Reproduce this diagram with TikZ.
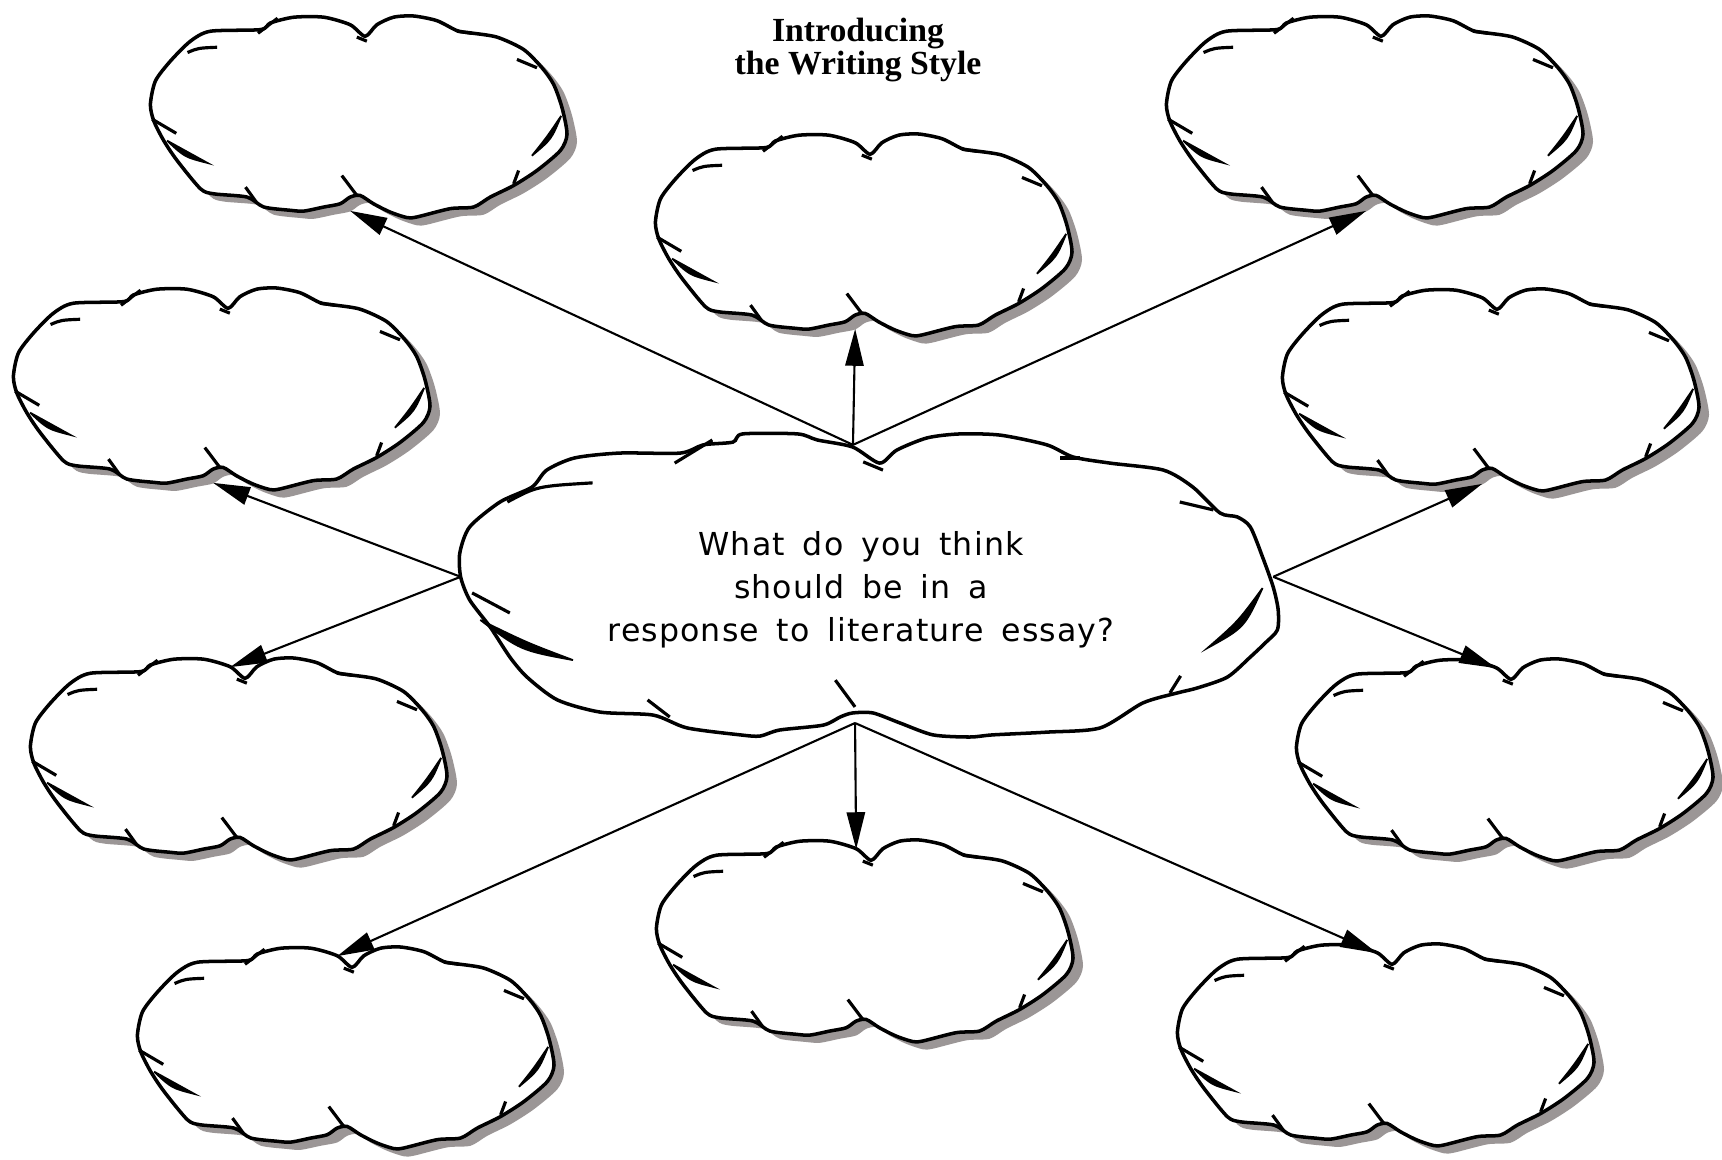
\documentclass[tikz,border=0pt]{standalone}
\usepackage{fontspec}
\usepackage{tikz}
\usetikzlibrary{arrows.meta}

\newfontfamily\titlefont{Liberation Serif}
\newfontfamily\bubblefont{DejaVu Sans}[LetterSpace=3.5,WordSpace=1.6]
\definecolor{shadowgray}{RGB}{155,150,150}

% outline of a small cloud, in units of its own box (x right, y down)
\newcommand\smallcloudedge{plot[smooth cycle,tension=0.45] coordinates {
  (0.516,0.100) (0.544,0.043) (0.584,0.006) (0.632,0.000) (0.688,0.023)
  (0.736,0.072) (0.768,0.083) (0.832,0.104) (0.896,0.165) (0.940,0.255)
  (0.968,0.337) (0.988,0.451) (1.000,0.582) (0.984,0.663) (0.928,0.761)
  (0.872,0.835) (0.816,0.892) (0.776,0.941) (0.720,0.949) (0.640,0.990)
  (0.616,0.993) (0.576,0.966) (0.536,0.925) (0.504,0.884) (0.480,0.892)
  (0.456,0.925) (0.417,0.941) (0.369,0.961) (0.336,0.957) (0.273,0.941)
  (0.233,0.892) (0.153,0.876) (0.121,0.851) (0.065,0.712) (0.033,0.614)
  (0.009,0.516) (0.001,0.435) (0.013,0.320) (0.049,0.222) (0.097,0.124)
  (0.145,0.075) (0.265,0.067) (0.289,0.034) (0.345,0.006) (0.417,0.006)
  (0.480,0.043)}}

% outline of the big middle cloud
\newcommand\bigcloudedge{plot[smooth cycle,tension=0.45] coordinates {
  (0.513,0.099) (0.534,0.056) (0.571,0.016) (0.611,0.003) (0.660,0.007)
  (0.717,0.039) (0.749,0.079) (0.794,0.099) (0.859,0.122) (0.895,0.178)
  (0.928,0.263) (0.949,0.276) (0.965,0.309) (0.980,0.408) (0.993,0.507)
  (0.999,0.582) (0.998,0.648) (0.983,0.691) (0.965,0.737) (0.937,0.803)
  (0.900,0.839) (0.876,0.855) (0.834,0.888) (0.782,0.970) (0.717,0.984)
  (0.651,0.993) (0.623,1.000) (0.578,0.993) (0.538,0.954) (0.505,0.921)
  (0.480,0.921) (0.465,0.934) (0.444,0.961) (0.391,0.977) (0.367,0.997)
  (0.343,0.993) (0.278,0.970) (0.237,0.928) (0.172,0.918) (0.120,0.878)
  (0.083,0.803) (0.062,0.737) (0.038,0.638) (0.013,0.549) (0.002,0.473)
  (0.001,0.395) (0.013,0.309) (0.050,0.227) (0.089,0.178) (0.107,0.122)
  (0.141,0.082) (0.196,0.066) (0.270,0.066) (0.298,0.039) (0.334,0.030)
  (0.346,0.003) (0.413,0.003) (0.437,0.023) (0.480,0.046)}}

\tikzset{
  pics/cloud/.style={code={
    % shadow, then the cloud itself
    \fill[shadowgray,shift={(0.024,0.038)}] \smallcloudedge;
    \filldraw[fill=white,line width=1pt] \smallcloudedge;
    % pen strokes
    \draw[line width=0.9pt] (0.161,0.154) .. controls (0.115,0.158) .. (0.090,0.180);
    \draw[line width=0.9pt] (0.259,0.085) -- (0.306,0.011);
    \draw[line width=0.9pt] (0.496,0.104) -- (0.520,0.124);
    \draw[line width=0.9pt] (0.736,0.075) -- (0.770,0.085);
    \draw[line width=0.9pt] (0.880,0.214) -- (0.928,0.255);
    \draw[line width=0.9pt] (0.005,0.508) -- (0.063,0.578);
    \draw[line width=0.9pt] (0.229,0.843) -- (0.255,0.917);
    \draw[line width=0.9pt] (0.460,0.786) -- (0.496,0.884);
    \draw[line width=0.9pt] (0.884,0.761) -- (0.872,0.827);
    \filldraw[line width=0.5pt] (0.041,0.614) .. controls (0.083,0.695) .. (0.138,0.724)
      .. controls (0.089,0.673) .. (0.041,0.614);
    \filldraw[line width=0.5pt] (0.986,0.492) .. controls (0.963,0.607) .. (0.916,0.688)
      .. controls (0.953,0.593) .. (0.986,0.492);
    \coordinate (-n) at (0.48,0.045);
    \coordinate (-s) at (0.48,0.960);
  }},
  pics/bigcloud/.style={code={
    \filldraw[fill=white,line width=1pt] \bigcloudedge;
    % pen strokes
    \draw[line width=0.9pt] (0.263,0.099) -- (0.309,0.023);
    \draw[line width=0.9pt] (0.163,0.164) .. controls (0.095,0.175) .. (0.059,0.227);
    \draw[line width=0.9pt] (0.493,0.095) -- (0.517,0.122);
    \draw[line width=0.9pt] (0.733,0.082) -- (0.757,0.082);
    \draw[line width=0.9pt] (0.879,0.227) -- (0.920,0.253);
    \draw[line width=0.9pt] (0.062,0.592) -- (0.016,0.526);
    \draw[line width=0.9pt] (0.230,0.878) -- (0.257,0.934);
    \draw[line width=0.9pt] (0.459,0.813) -- (0.483,0.901);
    \draw[line width=0.9pt] (0.880,0.799) -- (0.867,0.855);
    \filldraw[line width=0.5pt] (0.026,0.615) .. controls (0.075,0.715) .. (0.139,0.747)
      .. controls (0.083,0.690) .. (0.026,0.615);
    \filldraw[line width=0.5pt] (0.980,0.510) .. controls (0.958,0.640) .. (0.913,0.707)
      .. controls (0.950,0.620) .. (0.980,0.510);
    \coordinate (-t) at (0.4805,0.039);
    \coordinate (-l) at (0.002,0.473);
    \coordinate (-r) at (0.993,0.473);
    \coordinate (-b) at (0.483,0.954);
  }}
}

\begin{document}
\begin{tikzpicture}[x=0.1mm,y=-0.1mm,
    small/.style={xscale=417,yscale=203},
    link/.style={-{Triangle[length=10.5pt,width=5.2pt]},line width=0.6pt}]
  \fill[white] (0,0) rectangle (1722,1159);
  \useasboundingbox (0,0) rectangle (1722,1159);

  % title
  \node[font=\titlefont\bfseries\fontsize{9.6pt}{9.4pt}\selectfont,align=center]
    (title) at (858,50) {Introducing\\the Writing Style};

  % the clouds
  \pic[shift={(150,16)},small] (tl) {cloud};
  \pic[shift={(655,134)},small] (tc) {cloud};
  \pic[shift={(1166,16)},small] (tr) {cloud};
  \pic[shift={(13,288)},small] (lu) {cloud};
  \pic[shift={(1282,289)},small] (ru) {cloud};
  \pic[shift={(30,658)},small] (ll) {cloud};
  \pic[shift={(1296,659)},small] (rl) {cloud};
  \pic[shift={(137,947)},small] (bl) {cloud};
  \pic[shift={(656,840)},small] (bc) {cloud};
  \pic[shift={(1177,944)},small] (br) {cloud};
  \pic[shift={(459,433)},xscale=820,yscale=304] (hub) {bigcloud};

  % arrows out of the middle cloud
  \draw[link] (hub-t) -- (tl-s);
  \draw[link] (hub-t) -- (tc-s);
  \draw[link] (hub-t) -- (tr-s);
  \draw[link] (hub-l) -- (lu-s);
  \draw[link] (hub-l) -- (ll-n);
  \draw[link] (hub-r) -- (ru-s);
  \draw[link] (hub-r) -- (rl-n);
  \draw[link] (hub-b) -- (bl-n);
  \draw[link] (hub-b) -- (bc-n);
  \draw[link] (hub-b) -- (br-n);

  % question
  \node[font=\bubblefont\fontsize{9pt}{12.3pt}\selectfont,align=center]
    (question) at (861,590) {What do you think\\should be in a\\response to literature essay?};
\end{tikzpicture}
\end{document}
